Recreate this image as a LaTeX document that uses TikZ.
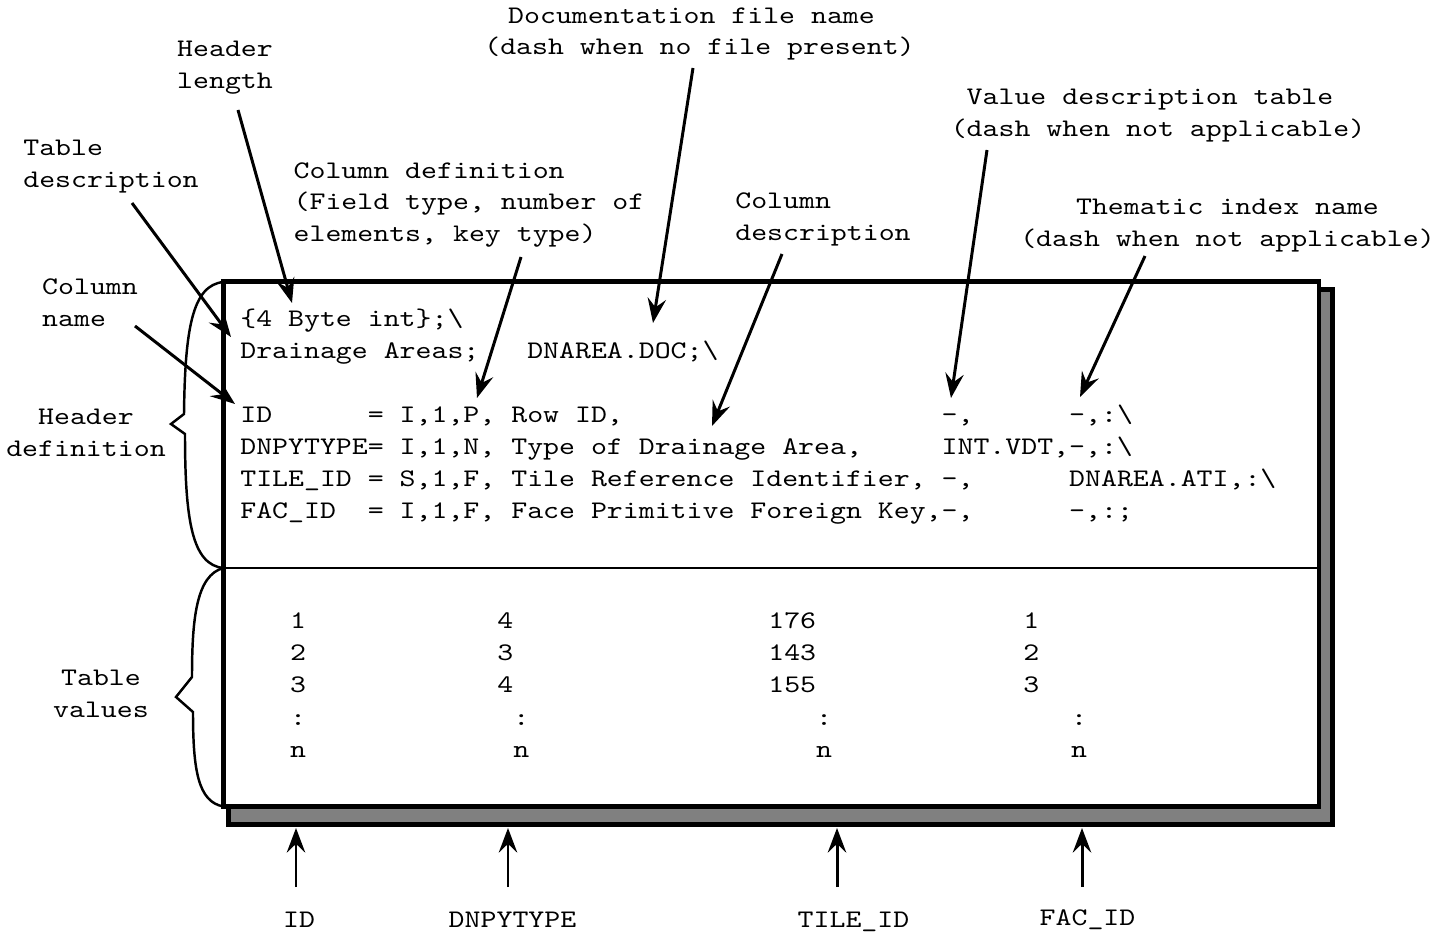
\documentclass[tikz,border=0pt]{standalone}
\usepackage{fontspec}
\setmonofont[FakeStretch=1.2]{lmmono10-regular.otf}
\usetikzlibrary{arrows.meta}
\frenchspacing
\newcommand{\sk}[1]{\hspace*{#1\fontcharwd\font`0}}
\newcommand{\bsl}{\textbackslash}

\begin{document}
\begin{tikzpicture}[x=0.02cm,y=-0.02cm,
		>={Stealth[length=14pt,width=10.5pt,inset=5pt]},
		every node/.style={font=\ttfamily\fontsize{14.4}{18.14}\selectfont,inner sep=0pt},
		ptr/.style={->,line width=1.7pt},
		body/.style={anchor=base west},
		notec/.style={align=center},
		notel/.style={align=left}]
		\useasboundingbox (0,0) rectangle (1451,932);
		\draw[line width=2.8pt,fill=gray] (228.5,289.5) rectangle (1332.5,824.5);
		\draw[line width=2.8pt,fill=white] (223.5,281.5) rectangle (1319,806.5);
		\draw[line width=1.1pt] (223.5,568) -- (1319,568);
		\draw[line width=1.4pt] (223.5,282) .. controls (192,285) and (185,330) .. (184,414)
			-- (171,424) -- (185,434) .. controls (185,520) and (192,565) .. (223.5,568);
		\draw[line width=1.4pt] (223.5,568) .. controls (196,575) and (192,620) .. (192,677)
			-- (176,697) -- (193,712) .. controls (193,770) and (198,802) .. (223.5,806.5);

		\node (len) [body] at (240,327) {\{4 Byte int\};\bsl};
		\node (desc) [body] at (240,359) {Drainage Areas;\sk{3}DNAREA.DOC;\bsl};
		\node (cid) [body] at (240,423) {ID\sk{6}= I,1,P, Row ID,\sk{20}-,\sk{6}-,:\bsl};
		\node (ctype) [body] at (240,455) {DNPYTYPE= I,1,N, Type of Drainage Area,\sk{5}INT.VDT,-,:\bsl};
		\node (ctile) [body] at (240,487) {TILE\_ID = S,1,F, Tile Reference Identifier, -,\sk{6}DNAREA.ATI,:\bsl};
		\node (cfac) [body] at (240,519) {FAC\_ID\sk{2}= I,1,F, Face Primitive Foreign Key,-,\sk{6}-,:;};

		\node (v1) [body] at (242,628) {\sk{3}1\sk{12}4\sk{16}176\sk{13}1};
		\node (v2) [body] at (242,660) {\sk{3}2\sk{12}3\sk{16}143\sk{13}2};
		\node (v3) [body] at (242,692) {\sk{3}3\sk{12}4\sk{16}155\sk{13}3};
		\node (v4) [body] at (242,725) {\sk{3}:\sk{13}:\sk{18}:\sk{15}:};
		\node (v5) [body] at (242,757) {\sk{3}n\sk{13}n\sk{18}n\sk{15}n};

		\node (hlen) [notel] at (225,68) {Header\\length};
		\node (tdesc) [notel] at (111,166.5) {Table\\description};
		\node (cname) [notel] at (90,303) {Column\\name};
		\node (hdef) [notec] at (86,433) {Header\\definition};
		\node (tval) [notec] at (101,694) {Table\\values};
		\node (cdef) [notel] at (469,205) {Column definition\\(Field type, number of\\elements, key type)};
		\node (dfile) [notec] at (699.5,34) {Documentation file name\sk{1}\\(dash when no file present)};
		\node (cdesc) [notel] at (823,219.5) {Column\\description};
		\node (vdt) [notec] at (1158,115.5) {Value description table\sk{1}\\(dash when not applicable)};
		\node (them) [notec] at (1227.5,226) {Thematic index name\\(dash when not applicable)};

		\node (lid) [anchor=base] at (299,927) {ID};
		\node (ltype) [anchor=base] at (512.5,927) {DNPYTYPE};
		\node (ltile) [anchor=base] at (853.5,927) {TILE\_ID};
		\node (lfac) [anchor=base] at (1087.5,925) {FAC\_ID};

		\coordinate (at-len) at (292,303);
		\coordinate (at-desc) at (231,337);
		\coordinate (at-cname) at (235,404);
		\coordinate (at-cdef) at (477,398);
		\coordinate (at-doc) at (653,323);
		\coordinate (at-cdesc) at (712,426);
		\coordinate (at-vdt) at (951,398);
		\coordinate (at-them) at (1080,397);
		\coordinate (at-id) at (296,828);
		\coordinate (at-type) at (508,828);
		\coordinate (at-tile) at (837,828);
		\coordinate (at-fac) at (1082,828);

		\draw[ptr] ([shift={(13,42)}]hlen.center) -- (at-len);
		\draw[ptr] ([shift={(21,36.5)}]tdesc.center) -- (at-desc);
		\draw[ptr] ([shift={(45,23)}]cname.center) -- (at-cname);
		\draw[ptr] ([shift={(52,52)}]cdef.center) -- (at-cdef);
		\draw[ptr] ([shift={(-6.5,34)}]dfile.center) -- (at-doc);
		\draw[ptr] ([shift={(-41,34.5)}]cdesc.center) -- (at-cdesc);
		\draw[ptr] ([shift={(-171,34.5)}]vdt.center) -- (at-vdt);
		\draw[ptr] ([shift={(-82.5,30)}]them.center) -- (at-them);
		\draw[ptr] (lid.base -| at-id) ++(0,-40) -- (at-id);
		\draw[ptr] (ltype.base -| at-type) ++(0,-40) -- (at-type);
		\draw[ptr] (ltile.base -| at-tile) ++(0,-40) -- (at-tile);
		\draw[ptr] (lfac.base -| at-fac) ++(0,-38) -- (at-fac);
\end{tikzpicture}
\end{document}
